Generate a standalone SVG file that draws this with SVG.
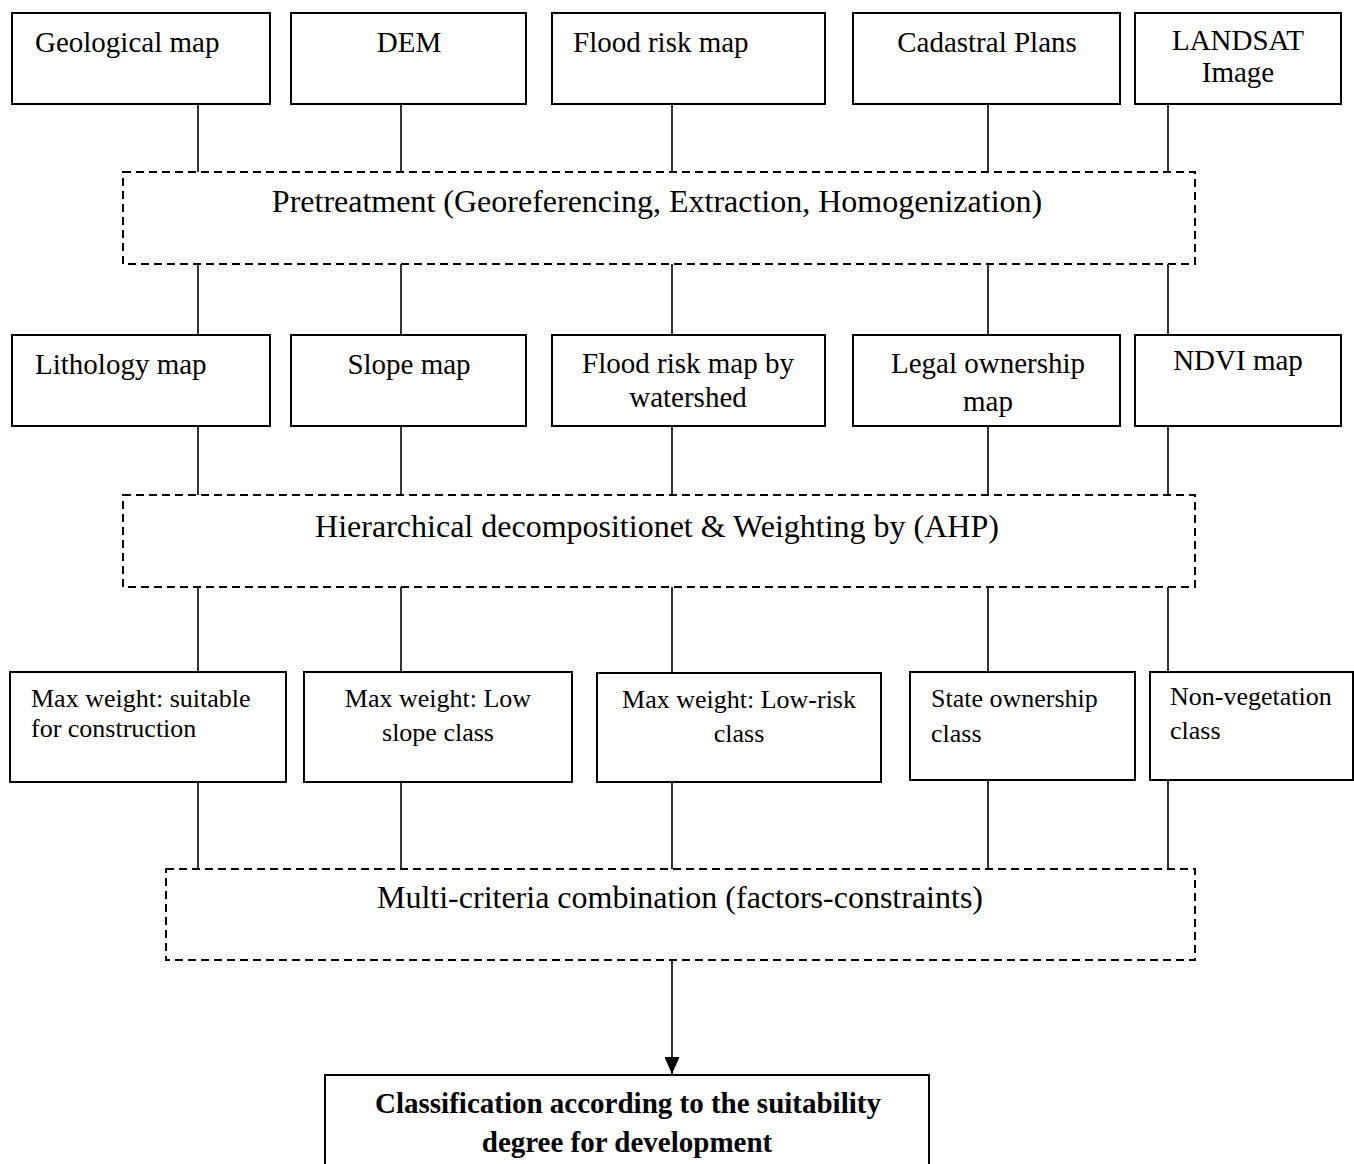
<svg xmlns="http://www.w3.org/2000/svg" width="1354" height="1164" viewBox="0 0 1354 1164">
<style>
.box{fill:#fff;stroke:#000;stroke-width:2}
.dash{fill:#fff;stroke:#000;stroke-width:2;stroke-dasharray:8,5}
.t{font-family:"Liberation Serif","Times New Roman",serif;font-size:29px;fill:#000}
.tl{font-family:"Liberation Serif","Times New Roman",serif;font-size:32px;fill:#000}
.ts{font-family:"Liberation Serif","Times New Roman",serif;font-size:26px;fill:#000}
.tb{font-family:"Liberation Serif","Times New Roman",serif;font-size:29px;font-weight:bold;fill:#000}
.c{text-anchor:middle}
.ln{stroke:#000;stroke-width:1.6;fill:none}
</style>
<defs>
<marker id="ah" viewBox="0 0 17 15" refX="17" refY="7.5" markerWidth="17" markerHeight="15" markerUnits="userSpaceOnUse" orient="auto">
<path d="M0,0 L17,7.5 L0,15 Z" fill="#000"/>
</marker>
</defs>
<g id="connectors">
<line class="ln" x1="198" y1="104" x2="198" y2="172"/>
<line class="ln" x1="401" y1="104" x2="401" y2="172"/>
<line class="ln" x1="672" y1="104" x2="672" y2="172"/>
<line class="ln" x1="988" y1="104" x2="988" y2="172"/>
<line class="ln" x1="1168" y1="104" x2="1168" y2="172"/>
<line class="ln" x1="198" y1="264" x2="198" y2="335"/>
<line class="ln" x1="401" y1="264" x2="401" y2="335"/>
<line class="ln" x1="672" y1="264" x2="672" y2="335"/>
<line class="ln" x1="988" y1="264" x2="988" y2="335"/>
<line class="ln" x1="1168" y1="264" x2="1168" y2="335"/>
<line class="ln" x1="198" y1="426" x2="198" y2="495"/>
<line class="ln" x1="401" y1="426" x2="401" y2="495"/>
<line class="ln" x1="672" y1="426" x2="672" y2="495"/>
<line class="ln" x1="988" y1="426" x2="988" y2="495"/>
<line class="ln" x1="1168" y1="426" x2="1168" y2="495"/>
<line class="ln" x1="198" y1="587" x2="198" y2="672"/>
<line class="ln" x1="401" y1="587" x2="401" y2="672"/>
<line class="ln" x1="672" y1="587" x2="672" y2="672"/>
<line class="ln" x1="988" y1="587" x2="988" y2="672"/>
<line class="ln" x1="1168" y1="587" x2="1168" y2="672"/>
<line class="ln" x1="198" y1="782" x2="198" y2="869"/>
<line class="ln" x1="401" y1="782" x2="401" y2="869"/>
<line class="ln" x1="672" y1="782" x2="672" y2="869"/>
<line class="ln" x1="988" y1="780" x2="988" y2="869"/>
<line class="ln" x1="1168" y1="780" x2="1168" y2="869"/>
<line class="ln" x1="672" y1="960" x2="672" y2="1074" stroke-width="2" marker-end="url(#ah)"/>
</g>
<g id="geological"><rect class="box" x="12" y="13" width="258" height="91"/><text class="t" x="35" y="52">Geological map</text></g>
<g id="dem"><rect class="box" x="291" y="13" width="235" height="91"/><text class="t c" x="409" y="52">DEM</text></g>
<g id="floodrisk"><rect class="box" x="552" y="13" width="273" height="91"/><text class="t" x="573" y="52">Flood risk map</text></g>
<g id="cadastral"><rect class="box" x="853" y="13" width="267" height="91"/><text class="t c" x="987" y="52">Cadastral Plans</text></g>
<g id="landsat"><rect class="box" x="1135" y="13" width="206" height="91"/><text class="t c" x="1238" y="50">LANDSAT</text><text class="t c" x="1238" y="82">Image</text></g>
<g id="pretreatment"><rect class="dash" x="123" y="172" width="1072" height="92"/><text class="tl c" x="657" y="212">Pretreatment (Georeferencing, Extraction, Homogenization)</text></g>
<g id="lithology"><rect class="box" x="12" y="335" width="258" height="91"/><text class="t" x="35" y="374">Lithology map</text></g>
<g id="slope"><rect class="box" x="291" y="335" width="235" height="91"/><text class="t c" x="409" y="374">Slope map</text></g>
<g id="floodws"><rect class="box" x="552" y="335" width="273" height="91"/><text class="t c" x="688" y="373">Flood risk map by</text><text class="t c" x="688" y="407">watershed</text></g>
<g id="legal"><rect class="box" x="853" y="335" width="267" height="91"/><text class="t c" x="988" y="373">Legal ownership</text><text class="t c" x="988" y="411">map</text></g>
<g id="ndvi"><rect class="box" x="1135" y="335" width="206" height="91"/><text class="t c" x="1238" y="370">NDVI map</text></g>
<g id="ahp"><rect class="dash" x="123" y="495" width="1072" height="92"/><text class="tl c" x="657" y="537">Hierarchical decompositionet &amp; Weighting by (AHP)</text></g>
<g id="maxsuitable"><rect class="box" x="10" y="672" width="276" height="110"/><text class="ts" x="31" y="707">Max weight: suitable</text><text class="ts" x="31" y="737">for construction</text></g>
<g id="maxslope"><rect class="box" x="304" y="672" width="268" height="110"/><text class="ts c" x="438" y="707">Max weight: Low</text><text class="ts c" x="438" y="741">slope class</text></g>
<g id="maxrisk"><rect class="box" x="597" y="673" width="284" height="109"/><text class="ts c" x="739" y="708">Max weight: Low-risk</text><text class="ts c" x="739" y="742">class</text></g>
<g id="state"><rect class="box" x="910" y="672" width="225" height="108"/><text class="ts" x="931" y="707">State ownership</text><text class="ts" x="931" y="742">class</text></g>
<g id="nonveg"><rect class="box" x="1150" y="672" width="203" height="108"/><text class="ts" x="1170" y="705" font-size="25">Non-vegetation</text><text class="ts" x="1170" y="739" font-size="25">class</text></g>
<g id="multicriteria"><rect class="dash" x="166" y="869" width="1029" height="91"/><text class="tl c" x="680" y="908">Multi-criteria combination (factors-constraints)</text></g>
<g id="classification"><rect class="box" x="325" y="1075" width="604" height="100" stroke-width="2.5"/><text class="tb c" x="628" y="1113">Classification according to the suitability</text><text class="tb c" x="627" y="1152">degree for development</text></g>
</svg>
